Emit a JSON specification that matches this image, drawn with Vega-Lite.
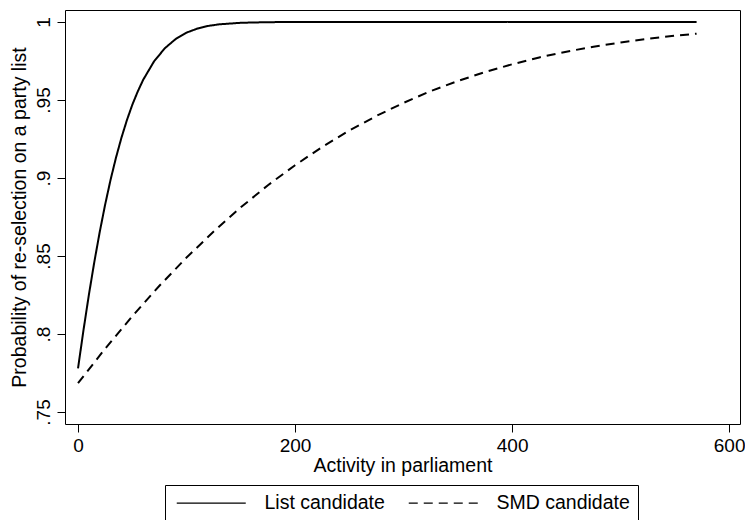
{
  "$schema": "https://vega.github.io/schema/vega-lite/v6.json",
  "width": 675,
  "height": 414,
  "autosize": {"type": "none"},
  "padding": {"left": 65, "top": 10, "right": 5, "bottom": 96},
  "background": "white",
  "config": {
    "font": "Liberation Sans",
    "view": {"stroke": "black", "strokeWidth": 1},
    "axis": {"grid": false, "domain": false, "tickColor": "black", "tickSize": 8, "labelColor": "black", "titleColor": "black", "labelFont": "Liberation Sans", "titleFont": "Liberation Sans", "labelFontSize": 19, "titleFontSize": 19.5, "titleFontWeight": "normal"},
    "legend": {"labelFont": "Liberation Sans", "labelFontSize": 19.5, "labelColor": "black"}
  },
  "data": {
    "values": [
      {"x": 0, "p": 0.778, "series": "List candidate"},
      {"x": 5, "p": 0.8023, "series": "List candidate"},
      {"x": 10, "p": 0.8251, "series": "List candidate"},
      {"x": 15, "p": 0.8461, "series": "List candidate"},
      {"x": 20, "p": 0.8654, "series": "List candidate"},
      {"x": 25, "p": 0.883, "series": "List candidate"},
      {"x": 30, "p": 0.8989, "series": "List candidate"},
      {"x": 35, "p": 0.9131, "series": "List candidate"},
      {"x": 40, "p": 0.9258, "series": "List candidate"},
      {"x": 45, "p": 0.937, "series": "List candidate"},
      {"x": 50, "p": 0.9469, "series": "List candidate"},
      {"x": 55, "p": 0.9554, "series": "List candidate"},
      {"x": 60, "p": 0.9629, "series": "List candidate"},
      {"x": 70, "p": 0.9747, "series": "List candidate"},
      {"x": 80, "p": 0.9832, "series": "List candidate"},
      {"x": 90, "p": 0.9891, "series": "List candidate"},
      {"x": 100, "p": 0.9932, "series": "List candidate"},
      {"x": 110, "p": 0.9958, "series": "List candidate"},
      {"x": 120, "p": 0.9975, "series": "List candidate"},
      {"x": 130, "p": 0.9985, "series": "List candidate"},
      {"x": 150, "p": 0.9995, "series": "List candidate"},
      {"x": 175, "p": 0.9999, "series": "List candidate"},
      {"x": 200, "p": 1.0, "series": "List candidate"},
      {"x": 300, "p": 1.0, "series": "List candidate"},
      {"x": 400, "p": 1.0, "series": "List candidate"},
      {"x": 500, "p": 1.0, "series": "List candidate"},
      {"x": 570, "p": 1.0, "series": "List candidate"},
      {"x": 0, "p": 0.7685, "series": "SMD candidate"},
      {"x": 25, "p": 0.7906, "series": "SMD candidate"},
      {"x": 50, "p": 0.8114, "series": "SMD candidate"},
      {"x": 75, "p": 0.8309, "series": "SMD candidate"},
      {"x": 100, "p": 0.849, "series": "SMD candidate"},
      {"x": 125, "p": 0.8657, "series": "SMD candidate"},
      {"x": 150, "p": 0.8812, "series": "SMD candidate"},
      {"x": 175, "p": 0.8954, "series": "SMD candidate"},
      {"x": 200, "p": 0.9082, "series": "SMD candidate"},
      {"x": 225, "p": 0.9199, "series": "SMD candidate"},
      {"x": 250, "p": 0.9305, "series": "SMD candidate"},
      {"x": 275, "p": 0.9398, "series": "SMD candidate"},
      {"x": 300, "p": 0.9482, "series": "SMD candidate"},
      {"x": 325, "p": 0.9557, "series": "SMD candidate"},
      {"x": 350, "p": 0.9622, "series": "SMD candidate"},
      {"x": 375, "p": 0.9679, "series": "SMD candidate"},
      {"x": 400, "p": 0.9729, "series": "SMD candidate"},
      {"x": 425, "p": 0.9773, "series": "SMD candidate"},
      {"x": 450, "p": 0.981, "series": "SMD candidate"},
      {"x": 475, "p": 0.9842, "series": "SMD candidate"},
      {"x": 500, "p": 0.9869, "series": "SMD candidate"},
      {"x": 525, "p": 0.9892, "series": "SMD candidate"},
      {"x": 550, "p": 0.9912, "series": "SMD candidate"},
      {"x": 570, "p": 0.9925, "series": "SMD candidate"}
    ]
  },
  "mark": {"type": "line", "color": "black", "strokeWidth": 2},
  "encoding": {
    "x": {
      "field": "x", "type": "quantitative",
      "scale": {"domain": [-12, 610], "nice": false, "zero": false},
      "axis": {"values": [0, 200, 400, 600], "title": "Activity in parliament", "labelPadding": 4, "titlePadding": 1, "format": "d"}
    },
    "y": {
      "field": "p", "type": "quantitative",
      "scale": {"domain": [0.7423, 1.0077], "nice": false, "zero": false},
      "axis": {
        "values": [0.75, 0.8, 0.85, 0.9, 0.95, 1],
        "title": "Probability of re-selection on a party list",
        "labelAngle": -90, "labelAlign": "center", "labelBaseline": "bottom", "labelPadding": 4,
        "labelExpr": "datum.value < 1 ? substring(format(datum.value, '.2~f'), 1) : '1'",
        "titlePadding": 5
      }
    },
    "strokeDash": {
      "field": "series", "type": "nominal",
      "scale": {"domain": ["List candidate", "SMD candidate"], "range": [[1, 0], [9, 6]]},
      "legend": {
        "title": null, "orient": "none", "legendX": 100, "legendY": 475,
        "direction": "horizontal", "columns": 2,
        "strokeColor": "black", "fillColor": "white", "padding": 8,
        "symbolType": "M-1,0H10.5", "symbolSize": 144, "symbolStrokeWidth": 1.3, "symbolStrokeColor": "black",
        "labelOffset": 72, "columnPadding": 20
      }
    }
  }
}
